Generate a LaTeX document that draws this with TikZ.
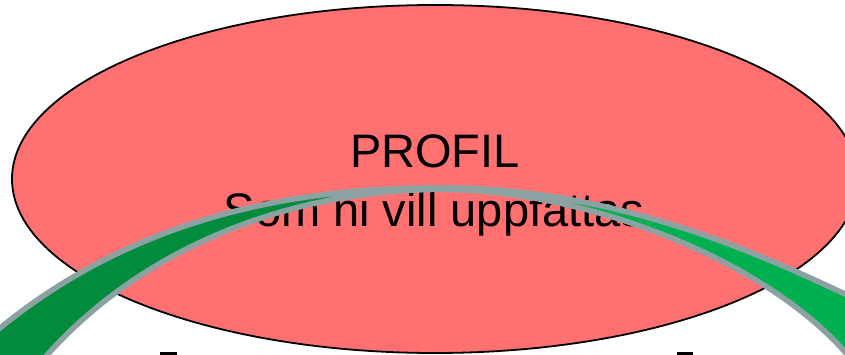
\documentclass[tikz,border=0pt]{standalone}
\usepackage{fontspec}
\setmainfont{Liberation Sans}
\definecolor{profilred}{RGB}{255,112,112}
\definecolor{arcgray}{RGB}{140,162,162}
\definecolor{darkarc}{RGB}{0,140,60}
\definecolor{brightarc}{RGB}{0,176,80}
\tikzset{
  profilshape/.style={draw=black, line width=1.8pt, fill=profilred},
  bigtext/.style={font=\fontsize{47}{56}\selectfont, inner sep=0pt, anchor=base},
  crescent/.style={draw=arcgray, line width=5.5pt, line join=round},
  cutmark/.style={fill=black}
}
\begin{document}
\begin{tikzpicture}[x=1pt, y=-1pt]
  \useasboundingbox (0,0) rectangle (845,355);
  \clip (0,0) rectangle (845,355);

  % profile ellipse with its caption
  \draw[profilshape] (435,179) ellipse [x radius=423, y radius=174];
  \node[bigtext] (title) at (435,168) {PROFIL};
  \node[bigtext] (subtitle) at (434,227) {Som ni vill uppfattas};

  % left half of the arc, tapering to a point at the top
  \path[crescent, fill=darkarc]
    (-40,360) -- (0,328) .. controls (140,214) and (300,187.8) .. (442,187.8)
    -- (442,189.4) .. controls (300,189.4) and (150,241) .. (48,354)
    -- (20,385) -- cycle;

  % right half of the arc
  \path[crescent, fill=brightarc]
    (442,187.8) .. controls (620,187.8) and (770,259) .. (845,294) -- (885,313)
    -- (875,392) -- (845,352) .. controls (760,256) and (580,189.4) .. (442,189.4)
    -- cycle;

  % tops of letters reaching in from below
  \fill[cutmark] (160,352.3) rectangle (177,358);
  \fill[cutmark] (677,352.3) rectangle (693,358);
\end{tikzpicture}
\end{document}
